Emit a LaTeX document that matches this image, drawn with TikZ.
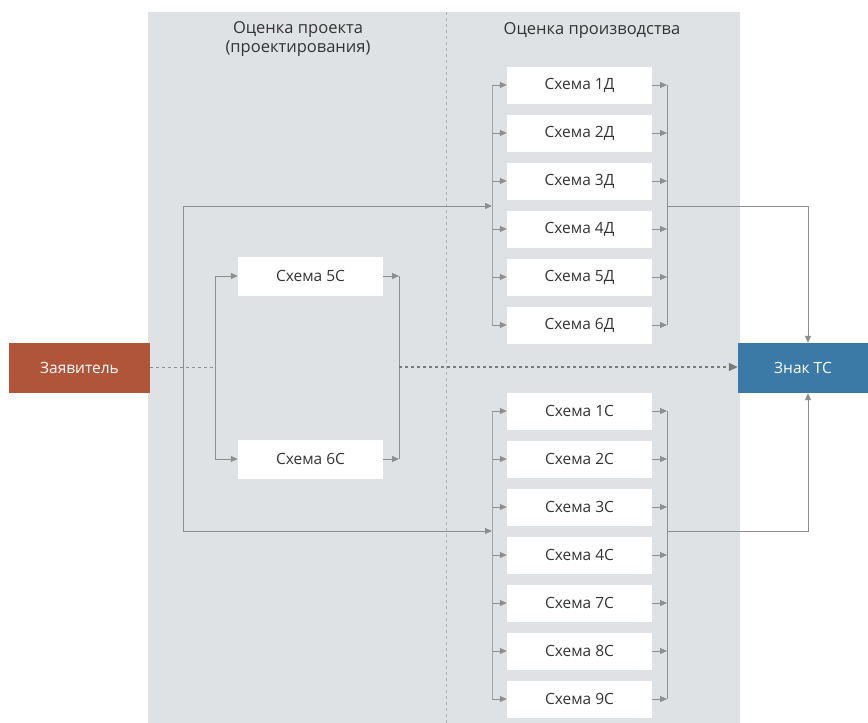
\documentclass[tikz,border=0pt]{standalone}
\usepackage{fontspec}
\setmainfont{Open Sans}
\usetikzlibrary{arrows.meta}
\definecolor{bgc}{HTML}{DFE2E4}
\definecolor{lnc}{HTML}{8E8E8E}
\definecolor{dkc}{HTML}{7A7A7A}
\definecolor{rust}{HTML}{B0553A}
\definecolor{tcb}{HTML}{3B7AA6}
\definecolor{txc}{HTML}{333333}
\begin{document}
\begin{tikzpicture}[x=1pt,y=-1pt,
  schemebox/.style={fill=white, minimum width=145pt, minimum height=37pt, inner sep=0pt,
    font=\fontsize{15.5}{18}\selectfont, text=txc},
  endbox/.style={minimum height=50pt, inner sep=0pt, font=\fontsize{15.5}{18}\selectfont, text=white},
  head/.style={font=\fontsize{16.5}{18.5}\selectfont, text=txc, align=center},
  arr/.style={draw=lnc, line width=1pt, -{Triangle[length=7pt,width=6pt]}},
  ln/.style={draw=lnc, line width=1pt}]
\useasboundingbox (0,0) rectangle (868,723);
\fill[bgc] (148,12) rectangle (740,723);
\draw[lnc!70, dashed, line width=0.8pt] (446,12) -- (446,723);

\node[head] (h1) at (298,39) {Оценка проекта\\(проектирования)};
\node[head] (h2) at (592,30) {Оценка производства};

\node[endbox, fill=rust, minimum width=141pt] (zay) at (79.5,368) {Заявитель};
\node[endbox, fill=tcb, minimum width=130pt] (tc) at (803,368) {Знак ТС};

\foreach \n [count=\i from 0] in {1,2,3,4,5,6}
  \node[schemebox] (d\n) at (579.5,{85+48*\i}) {Схема \n Д};
\foreach \n [count=\i from 0] in {1,2,3,4,7,8,9}
  \node[schemebox] (c\n) at (579.5,{411+48*\i}) {Схема \n С};
\node[schemebox, minimum height=39pt] (s5) at (310.5,276) {Схема 5С};
\node[schemebox, minimum height=39pt] (s6) at (310.5,459) {Схема 6С};

\coordinate (dL) at (492,0);
\coordinate (dR) at (667,0);
\coordinate (lt) at (183,206);
\coordinate (lb) at (183,531);
\coordinate (iL) at (215,0);
\coordinate (iR) at (399,0);
\coordinate (mid) at (0,367);
\coordinate (rt) at (808,206);
\coordinate (rb) at (808,531);

% buses
\draw[ln, lnc!80] (d1.west -| dL) -- (d6.west -| dL);
\draw[ln] (d1.east -| dR) -- (d6.east -| dR);
\draw[ln, lnc!80] (c1.west -| dL) -- (c9.west -| dL);
\draw[ln] (c1.east -| dR) -- (c9.east -| dR);
\foreach \n in {1,2,3,4,5,6}{
  \draw[arr] (d\n.west -| dL) -- (d\n.west);
  \draw[arr] (d\n.east) -- (d\n.east -| dR);}
\foreach \n in {1,2,3,4,7,8,9}{
  \draw[arr] (c\n.west -| dL) -- (c\n.west);
  \draw[arr] (c\n.east) -- (c\n.east -| dR);}

% outer loop
\draw[ln] (lt) -- (lb);
\draw[arr] (lt) -- (lt -| dL);
\draw[arr] (lb) -- (lb -| dL);

% inner 5C/6C
\draw[lnc, dashed, line width=1pt] (zay.east |- mid) -- (mid -| iL);
\draw[ln] (s5.west -| iL) -- (s6.west -| iL);
\draw[arr] (s5.west -| iL) -- (s5.west);
\draw[arr] (s6.west -| iL) -- (s6.west);
\draw[ln] (s5.east -| iR) -- (s6.east -| iR);
\draw[arr] (s5.east) -- (s5.east -| iR);
\draw[arr] (s6.east) -- (s6.east -| iR);
\draw[draw=dkc, dashed, line width=1.6pt, -{Triangle[length=9pt,width=8pt]}] (mid -| iR) -- (tc.west |- mid);

% to TC
\draw[arr] (rt -| dR) -- (rt) -- (rt |- tc.north);
\draw[arr] (rb -| dR) -- (rb) -- (rb |- tc.south);
\end{tikzpicture}
\end{document}
